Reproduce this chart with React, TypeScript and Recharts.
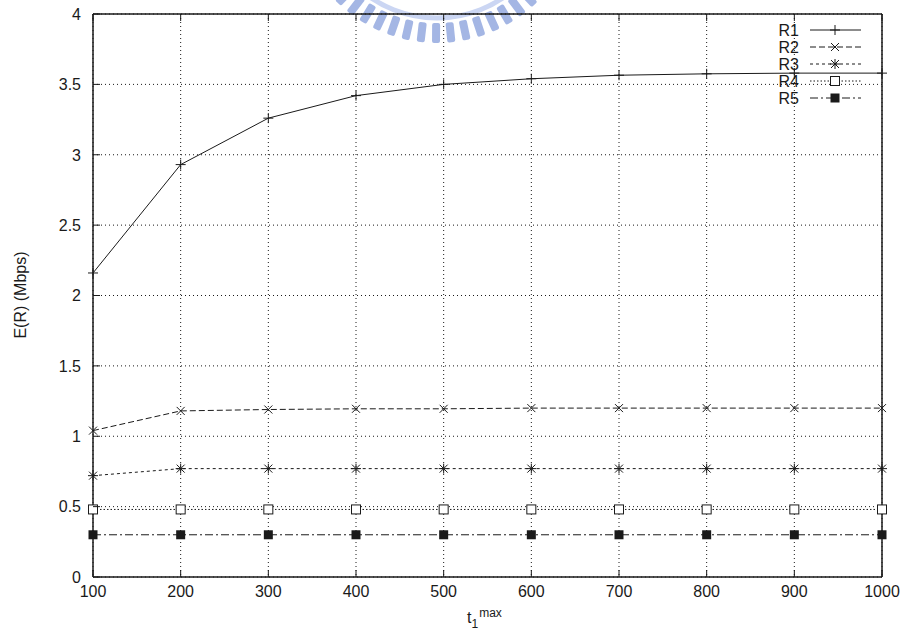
import React from "react";
import { LineChart, Line, XAxis, YAxis, CartesianGrid } from "recharts";

const xValues = [100, 200, 300, 400, 500, 600, 700, 800, 900, 1000];
const r1 = [2.16, 2.93, 3.26, 3.42, 3.5, 3.54, 3.565, 3.575, 3.58, 3.58];
const r2 = [1.04, 1.18, 1.19, 1.195, 1.195, 1.2, 1.2, 1.2, 1.2, 1.2];
const r3 = [0.72, 0.77, 0.77, 0.77, 0.77, 0.77, 0.77, 0.77, 0.77, 0.77];
const r4 = [0.48, 0.48, 0.48, 0.48, 0.48, 0.48, 0.48, 0.48, 0.48, 0.48];
const r5 = [0.3, 0.3, 0.3, 0.3, 0.3, 0.3, 0.3, 0.3, 0.3, 0.3];
const yTicks = [0, 0.5, 1, 1.5, 2, 2.5, 3, 3.5, 4];
const xTicks = [100, 200, 300, 400, 500, 600, 700, 800, 900, 1000];
const seriesNames = ["R1", "R2", "R3", "R4", "R5"];

const data = xValues.map((x, i) => ({ x, R1: r1[i], R2: r2[i], R3: r3[i], R4: r4[i], R5: r5[i] }));

const INK = "#1a1a1a";
const FONT = "'Liberation Sans', Arial, sans-serif";

const dashes: Record<string, string | undefined> = {
  R1: undefined,
  R2: "6 3",
  R3: "3 3",
  R4: "1.5 2",
  R5: "8 3 2 3",
};

function Marker({ kind, cx, cy }: { kind: string; cx: number; cy: number }) {
  if (kind === "R1")
    return (
      <g stroke={INK} strokeWidth={1}>
        <line x1={cx - 5} y1={cy} x2={cx + 5} y2={cy} />
        <line x1={cx} y1={cy - 5} x2={cx} y2={cy + 5} />
      </g>
    );
  if (kind === "R2")
    return (
      <g stroke={INK} strokeWidth={1}>
        <line x1={cx - 4} y1={cy - 4} x2={cx + 4} y2={cy + 4} />
        <line x1={cx - 4} y1={cy + 4} x2={cx + 4} y2={cy - 4} />
      </g>
    );
  if (kind === "R3")
    return (
      <g stroke={INK} strokeWidth={1}>
        <line x1={cx - 4} y1={cy - 4} x2={cx + 4} y2={cy + 4} />
        <line x1={cx - 4} y1={cy + 4} x2={cx + 4} y2={cy - 4} />
        <line x1={cx - 5} y1={cy} x2={cx + 5} y2={cy} />
        <line x1={cx} y1={cy - 5} x2={cx} y2={cy + 5} />
      </g>
    );
  if (kind === "R4")
    return <rect x={cx - 4.5} y={cy - 4.5} width={9} height={9} fill="#fff" stroke={INK} strokeWidth={1} />;
  return <rect x={cx - 4.5} y={cy - 4.5} width={9} height={9} fill={INK} />;
}

const makeDot = (kind: string) => (props: any) => {
  const { cx, cy, index } = props;
  if (cx == null || cy == null) return <g key={`${kind}-${index}`} />;
  return (
    <g key={`${kind}-${index}`}>
      <Marker kind={kind} cx={cx} cy={cy} />
    </g>
  );
};

const LeftTick = (props: any) => {
  const { x, y, payload } = props;
  const ax = x + 12;
  return (
    <g>
      <line x1={ax} y1={y} x2={ax + 7} y2={y} stroke={INK} strokeWidth={1} />
      <text x={x} y={y} dy="0.36em" textAnchor="end" fontSize={16} fontFamily={FONT} fill={INK}>
        {payload.value}
      </text>
    </g>
  );
};

const RightTick = (props: any) => {
  const { x, y } = props;
  return <line x1={x} y1={y} x2={x - 7} y2={y} stroke={INK} strokeWidth={1} />;
};

const BottomTick = (props: any) => {
  const { x, y, payload } = props;
  const ay = y - 6;
  return (
    <g>
      <line x1={x} y1={ay} x2={x} y2={ay - 7} stroke={INK} strokeWidth={1} />
      <text x={x} y={y} dy="0.85em" textAnchor="middle" fontSize={16} fontFamily={FONT} fill={INK}>
        {payload.value}
      </text>
    </g>
  );
};

const TopTick = (props: any) => {
  const { x, y } = props;
  return <line x1={x} y1={y} x2={x} y2={y + 7} stroke={INK} strokeWidth={1} />;
};

function Watermark() {
  const cx = 437;
  const cy = -100;
  const teeth = [];
  for (let a = 47; a <= 134; a += 6.2) {
    const rad = (a * Math.PI) / 180;
    const r = 133;
    const tx = cx + Math.cos(rad) * r;
    const ty = cy + Math.sin(rad) * r;
    teeth.push(
      <rect
        key={a}
        x={-4}
        y={-10}
        width={8}
        height={20}
        rx={2}
        fill="#95aae0"
        transform={`translate(${tx},${ty}) rotate(${a - 90})`}
      />
    );
  }
  return (
    <g opacity={0.85}>
      <circle cx={cx} cy={cy} r={118} fill="none" stroke="#c3cff1" strokeWidth={5} />
      {teeth}
    </g>
  );
}

function Overlay() {
  const rows = [30, 47, 64, 81, 98];
  return (
    <svg width={908} height={634} style={{ position: "absolute", left: 0, top: 0, pointerEvents: "none" }}>
      {seriesNames.map((name, i) => (
        <g key={name}>
          <text x={799} y={rows[i]} dy="0.36em" textAnchor="end" fontSize={16} fontFamily={FONT} fill={INK}>
            {name}
          </text>
          <line x1={810} y1={rows[i]} x2={861} y2={rows[i]} stroke={INK} strokeWidth={1} strokeDasharray={dashes[name]} />
          <Marker kind={name} cx={835} cy={rows[i]} />
        </g>
      ))}
      <text
        x={0}
        y={0}
        transform="translate(26,295) rotate(-90)"
        textAnchor="middle"
        fontSize={16}
        fontFamily={FONT}
        fill={INK}
      >
        E(R) (Mbps)
      </text>
      <text x={467} y={623} fontSize={16} fontFamily={FONT} fill={INK}>
        t
        <tspan fontSize={12} dy={5}>1</tspan>
        <tspan fontSize={12} dx={1} dy={-11}>max</tspan>
      </text>
    </svg>
  );
}

export default function App() {
  return (
    <div style={{ position: "absolute", left: 0, top: 0, width: 908, height: 634, background: "#fff" }}>
      <svg width={908} height={634} style={{ position: "absolute", left: 0, top: 0 }}>
        <Watermark />
      </svg>
      <div style={{ position: "absolute", left: 0, top: 0 }}>
        <LineChart width={908} height={634} data={data} margin={{ top: 13, right: 25, bottom: 27, left: 33 }}>
          <CartesianGrid xAxisId="b" yAxisId="l" stroke={INK} strokeDasharray="1 3" strokeWidth={1} />
          <XAxis
            xAxisId="b"
            dataKey="x"
            type="number"
            domain={[100, 1000]}
            ticks={xTicks}
            height={30}
            tickSize={0}
            tickMargin={6}
            tick={<BottomTick />}
            tickLine={false}
            axisLine={{ stroke: INK, strokeWidth: 1.5 }}
            interval={0}
          />
          <XAxis
            xAxisId="t"
            dataKey="x"
            type="number"
            orientation="top"
            domain={[100, 1000]}
            ticks={xTicks}
            height={1}
            tickSize={0}
            tickMargin={0}
            tick={<TopTick />}
            tickLine={false}
            axisLine={{ stroke: INK, strokeWidth: 1.5 }}
            interval={0}
          />
          <YAxis
            yAxisId="l"
            type="number"
            domain={[0, 4]}
            ticks={yTicks}
            width={60}
            tickSize={0}
            tickMargin={12}
            tick={<LeftTick />}
            tickLine={false}
            axisLine={{ stroke: INK, strokeWidth: 1.5 }}
            interval={0}
          />
          <YAxis
            yAxisId="r"
            orientation="right"
            type="number"
            domain={[0, 4]}
            ticks={yTicks}
            width={1}
            tickSize={0}
            tickMargin={0}
            tick={<RightTick />}
            tickLine={false}
            axisLine={{ stroke: INK, strokeWidth: 1.5 }}
            interval={0}
          />
          {seriesNames.map((name) => (
            <Line
              key={name}
              xAxisId="b"
              yAxisId="l"
              type="linear"
              dataKey={name}
              stroke={INK}
              strokeWidth={1}
              strokeDasharray={dashes[name]}
              dot={makeDot(name)}
              activeDot={false}
              isAnimationActive={false}
            />
          ))}
        </LineChart>
      </div>
      <Overlay />
    </div>
  );
}
